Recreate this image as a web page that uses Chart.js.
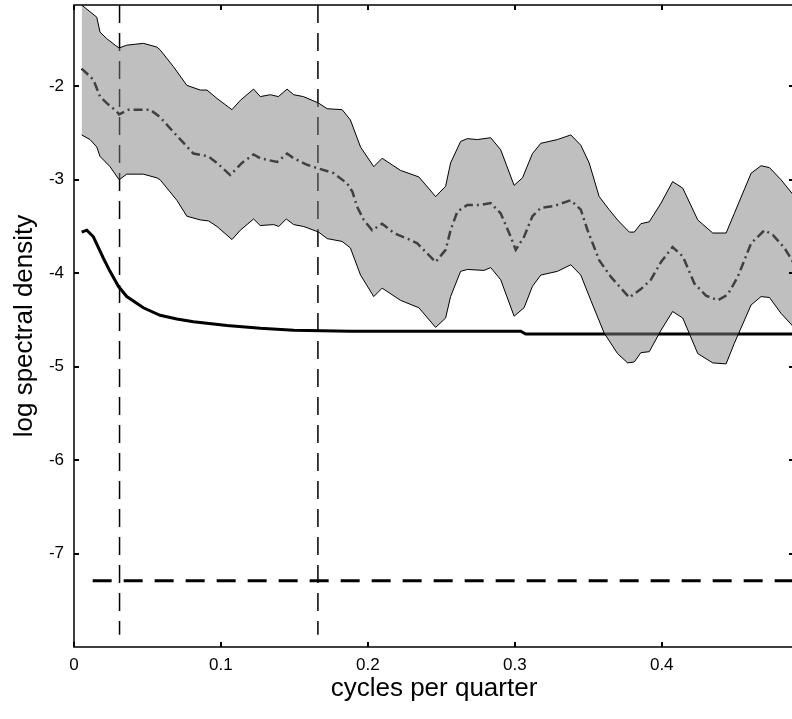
<!DOCTYPE html>
<html><head><meta charset="utf-8">
<script src="https://cdn.jsdelivr.net/npm/chart.js@4"></script>
<style>html,body{margin:0;padding:0;background:#fff;overflow:hidden;}canvas{display:block;}</style>
</head><body>
<canvas id="c" width="800" height="719"></canvas>
<script>
// frequency grid (cycles per quarter) and log spectral density values
const upperX = [0.0052,0.0155,0.0177,0.0223,0.0280,0.0307,0.0359,0.0472,0.0564,0.0586,
  0.0677,0.0768,0.0859,0.0905,0.0973,0.1075,0.1132,0.1222,0.1268,0.1336,
  0.1391,0.1450,0.1495,0.1561,0.1665,0.1723,0.1825,0.1881,0.1950,0.2040,
  0.2097,0.2222,0.2347,0.2461,0.2529,0.2563,0.2631,0.2677,0.2745,0.2836,
  0.2904,0.2995,0.3052,0.3120,0.3177,0.3290,0.3381,0.3449,0.3506,0.3574,
  0.3642,0.3699,0.3779,0.3813,0.3858,0.3915,0.3995,0.4074,0.4143,0.4245,
  0.4347,0.4438,0.4494,0.4608,0.4676,0.4733,0.4812,0.4894];
const upperY = [-1.13,-1.26,-1.42,-1.49,-1.56,-1.59,-1.56,-1.54,-1.58,-1.61,
  -1.79,-1.99,-2.04,-2.04,-2.13,-2.25,-2.15,-2.03,-2.11,-2.09,
  -2.11,-2.03,-2.09,-2.11,-2.18,-2.24,-2.25,-2.36,-2.65,-2.86,
  -2.77,-2.90,-2.97,-3.18,-3.07,-2.82,-2.59,-2.56,-2.57,-2.55,
  -2.68,-3.06,-2.98,-2.72,-2.61,-2.57,-2.52,-2.63,-2.82,-3.18,
  -3.32,-3.43,-3.56,-3.56,-3.47,-3.45,-3.25,-3.02,-3.09,-3.43,
  -3.57,-3.57,-3.36,-2.93,-2.85,-2.87,-3.00,-3.16];

const lowerX = [0.0052,0.0109,0.0155,0.0177,0.0245,0.0307,0.0359,0.0472,0.0564,0.0586,
  0.0700,0.0768,0.0859,0.0915,0.0973,0.1075,0.1132,0.1222,0.1268,0.1359,
  0.1393,0.1445,0.1495,0.1563,0.1665,0.1723,0.1825,0.1881,0.1950,0.2040,
  0.2097,0.2222,0.2347,0.2461,0.2529,0.2563,0.2631,0.2677,0.2790,0.2836,
  0.2904,0.2995,0.3063,0.3120,0.3177,0.3290,0.3381,0.3449,0.3517,0.3608,
  0.3699,0.3768,0.3813,0.3858,0.3915,0.3995,0.4074,0.4143,0.4245,0.4347,
  0.4438,0.4494,0.4608,0.4676,0.4733,0.4812,0.4894];
const lowerY = [-2.52,-2.57,-2.65,-2.75,-2.86,-3.00,-2.94,-2.94,-2.98,-3.00,
  -3.22,-3.39,-3.43,-3.44,-3.50,-3.64,-3.54,-3.42,-3.49,-3.48,
  -3.50,-3.42,-3.48,-3.50,-3.56,-3.63,-3.66,-3.73,-4.02,-4.25,
  -4.16,-4.29,-4.37,-4.58,-4.48,-4.25,-3.98,-3.96,-3.97,-3.94,
  -4.07,-4.46,-4.37,-4.14,-4.02,-3.98,-3.91,-4.02,-4.29,-4.64,
  -4.86,-4.96,-4.95,-4.85,-4.84,-4.61,-4.41,-4.48,-4.86,-4.96,
  -4.97,-4.75,-4.34,-4.25,-4.26,-4.43,-4.57];

const midX = [0.0052,0.0132,0.0177,0.0223,0.0291,0.0307,0.0370,0.0450,0.0518,0.0586,
  0.0677,0.0813,0.0915,0.0973,0.1063,0.1143,0.1222,0.1268,0.1382,0.1450,
  0.1495,0.1586,0.1665,0.1768,0.1859,0.1895,0.1927,0.1972,0.2029,0.2097,
  0.2177,0.2268,0.2336,0.2461,0.2529,0.2563,0.2609,0.2677,0.2768,0.2836,
  0.2904,0.2972,0.3006,0.3063,0.3120,0.3177,0.3267,0.3381,0.3449,0.3495,
  0.3574,0.3654,0.3722,0.3779,0.3858,0.3926,0.3995,0.4074,0.4143,0.4222,
  0.4301,0.4381,0.4449,0.4517,0.4608,0.4699,0.4756,0.4835,0.4894];
const midY = [-1.81,-1.93,-2.11,-2.18,-2.27,-2.30,-2.25,-2.25,-2.25,-2.33,
  -2.49,-2.72,-2.75,-2.82,-2.95,-2.82,-2.73,-2.77,-2.81,-2.72,
  -2.77,-2.84,-2.88,-2.93,-3.04,-3.13,-3.29,-3.43,-3.54,-3.47,
  -3.57,-3.63,-3.68,-3.88,-3.75,-3.54,-3.34,-3.27,-3.27,-3.25,
  -3.36,-3.61,-3.75,-3.61,-3.39,-3.30,-3.28,-3.22,-3.32,-3.54,
  -3.86,-4.04,-4.16,-4.26,-4.17,-4.07,-3.88,-3.72,-3.82,-4.11,
  -4.24,-4.29,-4.23,-4.04,-3.68,-3.54,-3.59,-3.73,-3.88];

const solidX = [0.0052,0.0087,0.0132,0.0200,0.0245,0.0302,0.0359,0.0472,0.0586,0.0700,
  0.0813,0.1041,0.1268,0.1495,0.1881,0.3040,0.3074,0.4894];
const solidY = [-3.56,-3.54,-3.61,-3.84,-3.98,-4.14,-4.25,-4.37,-4.45,-4.49,
  -4.52,-4.56,-4.59,-4.61,-4.62,-4.62,-4.65,-4.65];

// business-cycle band limits (vertical dashed) and horizontal dashed reference level
const vlineX = [0.031, 0.166];
const vlineY = [-1.13, -7.87];
const hlineX = [0.0127, 0.49];
const hlineY = [-7.29, -7.29];

const xTickValues = [0, 0.1, 0.2, 0.3, 0.4];
const xTickLabels = ['0', '0.1', '0.2', '0.3', '0.4'];
const yTickValues = [-7, -6, -5, -4, -3, -2];
const yTickLabels = ['-7', '-6', '-5', '-4', '-3', '-2'];
const xRange = [0, 0.49];
const yRange = [-8, -1.13];

function pts(xs, ys) { return xs.map((x, i) => ({x: x, y: ys[i]})); }

const boxAndTicks = {
  id: 'boxAndTicks',
  afterDraw(chart) {
    const ctx = chart.ctx, a = chart.chartArea, sx = chart.scales.x, sy = chart.scales.y;
    ctx.save();
    ctx.strokeStyle = '#000';
    ctx.lineWidth = 1.5;
    ctx.strokeRect(a.left, a.top, a.right - a.left, a.bottom - a.top);
    ctx.lineWidth = 2;
    ctx.beginPath();
    xTickValues.forEach(v => {
      const p = Math.round(sx.getPixelForValue(v));
      ctx.moveTo(p, a.bottom); ctx.lineTo(p, a.bottom - 5);
      ctx.moveTo(p, a.top); ctx.lineTo(p, a.top + 5);
    });
    yTickValues.forEach(v => {
      const p = Math.round(sy.getPixelForValue(v));
      ctx.moveTo(a.left, p); ctx.lineTo(a.left + 5, p);
      ctx.moveTo(a.right, p); ctx.lineTo(a.right - 5, p);
    });
    ctx.stroke();
    ctx.restore();
  }
};

Chart.defaults.font.family = "'Liberation Sans', Arial, sans-serif";
Chart.defaults.color = '#000';

new Chart(document.getElementById('c'), {
  type: 'line',
  data: {
    datasets: [
      {label: 'upper', data: pts(upperX, upperY), borderColor: '#000', borderWidth: 1, fill: false, order: 0},
      {label: 'lower', data: pts(lowerX, lowerY), borderColor: '#000', borderWidth: 1, fill: '-1',
       backgroundColor: 'rgba(128,128,128,0.5)', order: 0},
      {label: 'mean', data: pts(midX, midY), borderColor: '#000', borderWidth: 2.5, borderDash: [9, 4, 2, 4], fill: false, order: 1},
      {label: 'model', data: pts(solidX, solidY), borderColor: '#000', borderWidth: 3, fill: false, order: 1},
      {label: 'v1', data: pts([vlineX[0], vlineX[0]], vlineY), borderColor: '#000', borderWidth: 1.5, borderDash: [18, 10], fill: false, order: 1},
      {label: 'v2', data: pts([vlineX[1], vlineX[1]], vlineY), borderColor: '#000', borderWidth: 1.5, borderDash: [18, 10], fill: false, order: 1},
      {label: 'h', data: pts(hlineX, hlineY), borderColor: '#000', borderWidth: 3, borderDash: [19, 12], fill: false, order: 1}
    ]
  },
  options: {
    responsive: false,
    animation: false,
    devicePixelRatio: 1,
    layout: {padding: {top: 5, right: 6, left: 0, bottom: 0}},
    plugins: {legend: {display: false}, tooltip: {enabled: false}},
    elements: {line: {tension: 0, borderCapStyle: 'butt'}, point: {radius: 0}},
    scales: {
      x: {
        type: 'linear', min: xRange[0], max: xRange[1],
        afterFit(s) { s.height = 72; s.paddingLeft = 0; s.paddingRight = 0; },
        afterBuildTicks(s) { s.ticks = xTickValues.map(v => ({value: v})); },
        grid: {display: false, drawTicks: false},
        border: {display: false},
        ticks: {font: {size: 17}, padding: 8, maxRotation: 0, autoSkip: false,
                callback: (v, i) => xTickLabels[i]},
        title: {display: true, text: 'cycles per quarter', font: {size: 26}, padding: {top: 0, bottom: 15}}
      },
      y: {
        type: 'linear', min: yRange[0], max: yRange[1],
        afterFit(s) { s.width = 74; s.paddingTop = 0; s.paddingBottom = 0; },
        afterBuildTicks(s) { s.ticks = yTickValues.map(v => ({value: v})); },
        grid: {display: false, drawTicks: false},
        border: {display: false},
        ticks: {font: {size: 17}, padding: 10, autoSkip: false,
                callback: (v, i) => yTickLabels[i]},
        title: {display: true, text: 'log spectral density', font: {size: 26}, padding: {top: 9, bottom: 0}}
      }
    }
  },
  plugins: [boxAndTicks]
});
</script>
</body></html>
